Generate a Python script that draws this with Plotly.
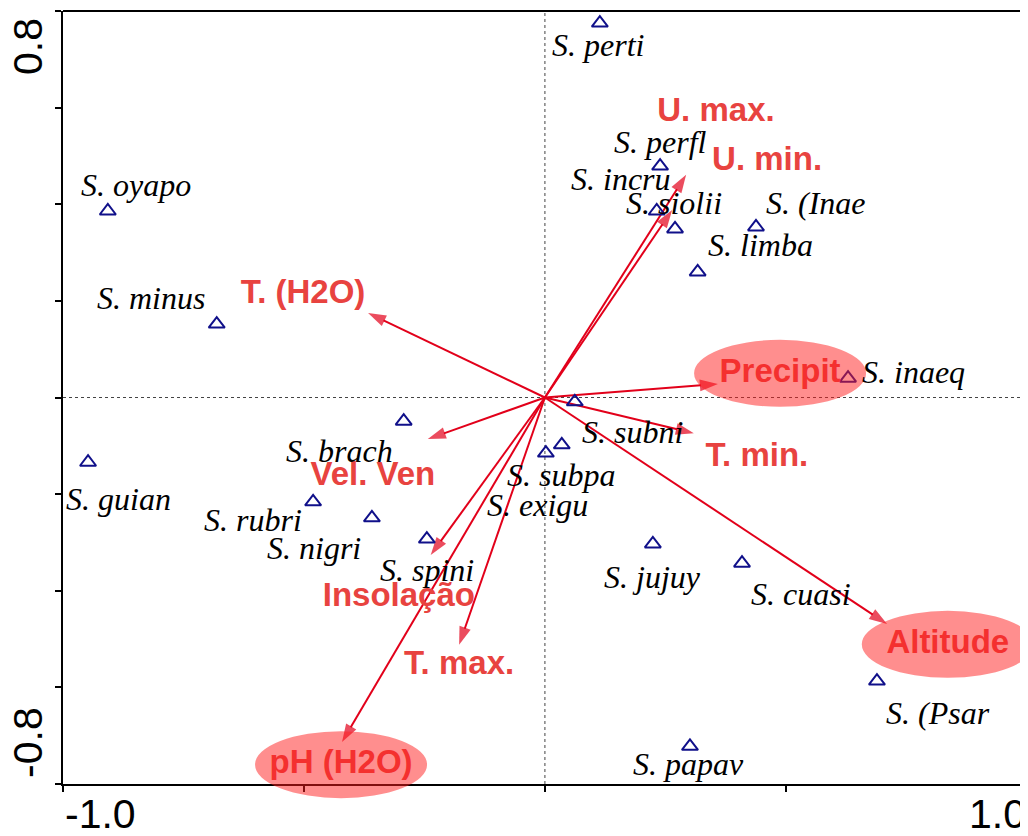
import plotly.graph_objects as go

# ---------------- data ----------------
species = ["S. perti", "S. perfl", "S. incru", "S. siolii", "S. (Inae", "S. limba",
           "S. inaeq", "S. oyapo", "S. minus", "S. guian", "S. brach", "S. rubri",
           "S. nigri", "S. spini", "S. subpa", "S. exigu", "S. subni", "S. jujuy",
           "S. cuasi", "S. (Psar", "S. papav"]
sp_x = [0.114, 0.239, 0.232, 0.270, 0.438, 0.317, 0.629, -0.907, -0.681, -0.948,
        -0.293, -0.481, -0.359, -0.245, 0.035, 0.002, 0.062, 0.224, 0.409, 0.689, 0.301]
sp_y = [0.775, 0.479, 0.386, 0.349, 0.353, 0.260, 0.040, 0.386, 0.152, -0.134,
        -0.049, -0.216, -0.249, -0.293, -0.098, -0.115, -0.009, -0.303, -0.343, -0.587, -0.722]

env_names = ["T. (H2O)", "U. max.", "U. min.", "Precipit", "T. min.", "Altitude",
             "pH (H2O)", "T. max.", "Insolação", "Vel. Ven"]
env_x = [-0.367, 0.293, 0.264, 0.359, 0.309, 0.710, -0.421, -0.178, -0.237, -0.243]
env_y = [0.175, 0.461, 0.388, 0.028, -0.074, -0.469, -0.713, -0.512, -0.326, -0.086]

highlighted = ["Precipit", "Altitude", "pH (H2O)"]

# axis ranges and ticks
x_range = [-1.0, 0.99]
y_range = [-0.8, 0.8]
x_ticks = [-1.0, -0.5, 0.0, 0.5, 1.0]
y_ticks = [-0.8, -0.6, -0.4, -0.2, 0.0, 0.2, 0.4, 0.6, 0.8]

# ---------------- label placement (style) ----------------
# species label shifts in pixels (dx right, dy up) relative to the point
sp_label_shift = [(-2, -22), (0, 24), (-36, 32), (-1, 26), (60, 24), (63, 27),
                  (65, 6), (28, 26), (-66, 26), (30, -37), (-64, -30), (-60, -18),
                  (-58, -30), (0, -31), (-1, -30), (-8, -52), (58, -30), (0, -33),
                  (59, -31), (61, -32), (-1, -18)]
# env label centres (data units)
env_label_x = [-0.502, 0.355, 0.461, 0.488, 0.440, 0.836, -0.423, -0.178, -0.303, -0.357]
env_label_y = [0.212, 0.589, 0.487, 0.049, -0.125, -0.512, -0.761, -0.556, -0.415, -0.165]

# the page body has an 8px margin: shrink the figure so it fills the window exactly
BODY = 8
W, H = 1028 - BODY, 836 - BODY
M = dict(l=63 - BODY, r=6, t=11 - BODY, b=52)
arrow_col = "#E2001A"
env_col = "#E84340"
sp_col = "#10108A"

fig = go.Figure()

# arrows
for name, tx, ty in zip(env_names, env_x, env_y):
    fig.add_trace(go.Scatter(
        x=[0, tx], y=[0, ty], mode="lines+markers",
        line=dict(color=arrow_col, width=2),
        marker=dict(symbol="arrow", size=[0, 19], angleref="previous", color=arrow_col,
                    line=dict(width=0)),
        hoverinfo="skip", showlegend=False, cliponaxis=False))

# species triangles
fig.add_trace(go.Scatter(
    x=sp_x, y=sp_y, mode="markers",
    marker=dict(symbol="triangle-up-open", size=14, color=sp_col, line=dict(width=2, color=sp_col)),
    hoverinfo="text", text=species, showlegend=False, cliponaxis=False))

# environmental labels
fig.add_trace(go.Scatter(
    x=env_label_x, y=env_label_y, mode="text", text=env_names,
    textposition="middle center",
    textfont=dict(family="Liberation Sans, Arial, sans-serif", size=33, color=env_col, weight="bold"),
    hoverinfo="skip", showlegend=False, cliponaxis=False))

# species labels
for name, x, y, (dx, dy) in zip(species, sp_x, sp_y, sp_label_shift):
    fig.add_annotation(x=x, y=y, text=name, showarrow=False, xshift=dx, yshift=dy,
                       xanchor="center", yanchor="middle",
                       font=dict(family="Liberation Serif, Times New Roman, serif", size=32,
                                 color="black", style="italic"))

# highlight ellipses around selected env labels (paper refs so they are not clipped)
def to_paper_x(v):
    return (v - x_range[0]) / (x_range[1] - x_range[0])

def to_paper_y(v):
    return (v - y_range[0]) / (y_range[1] - y_range[0])

for name, lx, ly in zip(env_names, env_label_x, env_label_y):
    if name in highlighted:
        fig.add_shape(type="circle", xref="paper", yref="paper",
                      xsizemode="pixel", ysizemode="pixel",
                      xanchor=to_paper_x(lx), yanchor=to_paper_y(ly),
                      x0=-86, x1=86, y0=-33, y1=34,
                      fillcolor="rgba(255,30,30,0.5)", line=dict(width=0), layer="above")

# zero lines (dotted)
fig.add_shape(type="line", xref="x", yref="paper", x0=0, x1=0, y0=0, y1=1,
              line=dict(color="#444", width=1, dash="dot"), layer="below")
fig.add_shape(type="line", xref="paper", yref="y", x0=0, x1=1, y0=0, y1=0,
              line=dict(color="#444", width=1, dash="dot"), layer="below")
# frame: top (thick) and right (thin)
fig.add_shape(type="line", xref="paper", yref="paper", x0=0, x1=1, y0=1, y1=1,
              line=dict(color="black", width=2))
fig.add_shape(type="line", xref="paper", yref="paper", x0=1, x1=1, y0=0, y1=1,
              line=dict(color="#777", width=1))

# extreme tick labels
tick_font = dict(family="Liberation Sans, Arial, sans-serif", size=41, color="black")
fig.add_annotation(x=-0.0365, xref="paper", y=0.7276, yref="y", text="0.8", textangle=-90,
                   showarrow=False, xanchor="center", yanchor="middle", font=tick_font)
fig.add_annotation(x=-0.0365, xref="paper", y=-0.713, yref="y", text="-0.8", textangle=-90,
                   showarrow=False, xanchor="center", yanchor="middle", font=tick_font)
fig.add_annotation(x=-0.923, xref="x", y=-0.039, yref="paper", text="-1.0",
                   showarrow=False, xanchor="center", yanchor="middle", font=tick_font)
fig.add_annotation(x=0.939, xref="x", y=-0.039, yref="paper", text="1.0",
                   showarrow=False, xanchor="center", yanchor="middle", font=tick_font)

axis_common = dict(showgrid=False, zeroline=False, showline=True, linewidth=2,
                   linecolor="black", ticks="outside", ticklen=6, tickwidth=2,
                   tickcolor="black", showticklabels=False)
fig.update_layout(
    width=W, height=H, margin=M,
    paper_bgcolor="white", plot_bgcolor="white",
    xaxis=dict(range=x_range, tickvals=x_ticks, **axis_common),
    yaxis=dict(range=y_range, tickvals=y_ticks, **axis_common),
    showlegend=False,
)

fig.write_html("out.html")
